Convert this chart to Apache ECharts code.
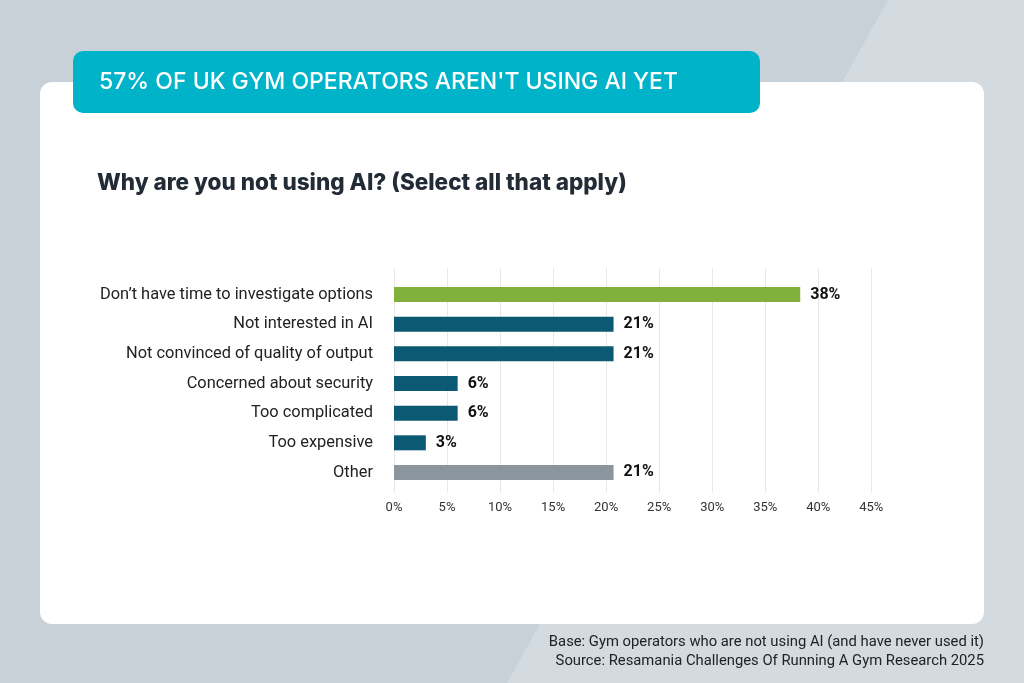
<!DOCTYPE html>
<html>
<head>
<meta charset="utf-8">
<script src="https://cdn.jsdelivr.net/npm/echarts@6/dist/echarts.min.js"></script>
<style>html,body{margin:0;padding:0;}#chart{width:1024px;height:683px;}</style>
</head>
<body>
<div id="chart"></div>
<script>
const categories = [
  "Don\u2019t have time to investigate options",
  "Not interested in AI",
  "Not convinced of quality of output",
  "Concerned about security",
  "Too complicated",
  "Too expensive",
  "Other"
];
const values = [38.3, 20.7, 20.7, 6, 6, 3, 20.7];
const barColors = ["#82b03c", "#0b5972", "#0b5972", "#0b5972", "#0b5972", "#0b5972", "#8a959d"];
const axisMax = 45;
const axisStep = 5;
const headline = "57% OF UK GYM OPERATORS AREN'T USING AI YET";
const question = "Why are you not using AI? (Select all that apply)";
const footnotes = [
  "Base: Gym operators who are not using AI (and have never used it)",
  "Source: Resamania Challenges Of Running A Gym Research 2025"
];

const chart = echarts.init(document.getElementById('chart'), null, {renderer: 'canvas'});
const option = {
  backgroundColor: '#c9d1d8',
  animation: false,
  graphic: [
    {type: 'polygon', z: -10, silent: true, shape: {points: [[888,0],[1024,0],[1024,683],[507,683]]}, style: {fill: '#d3dae0'}},
    {type: 'rect', z: -9, silent: true, shape: {x: 40, y: 82, width: 944, height: 542, r: 12}, style: {fill: '#ffffff'}},
    {type: 'rect', z: -8, silent: true, shape: {x: 73, y: 51, width: 687, height: 62, r: 10}, style: {fill: '#00b3c8'}},
    {type: 'text', z: 5, silent: true, style: {text: headline, x: 99, y: 82, verticalAlign: 'middle', fill: '#ffffff', fontFamily: 'Inter', fontWeight: 500, fontSize: 23}},
    {type: 'text', z: 5, silent: true, style: {text: question, x: 97, y: 183, verticalAlign: 'middle', fill: '#232c36', fontFamily: 'Inter', fontWeight: 800, fontSize: 22.5}},
    {type: 'text', z: 5, silent: true, style: {text: footnotes[0], x: 984, y: 642, align: 'right', verticalAlign: 'middle', fill: '#222222', fontFamily: 'Roboto', fontSize: 14.8}},
    {type: 'text', z: 5, silent: true, style: {text: footnotes[1], x: 984, y: 661, align: 'right', verticalAlign: 'middle', fill: '#222222', fontFamily: 'Roboto', fontSize: 14.8}}
  ],
  grid: [
    {left: 394, right: 152.7, top: 279.7, bottom: 195.7, containLabel: false},
    {left: 394, right: 152.7, top: 268, bottom: 190, containLabel: false}
  ],
  xAxis: [
    {gridIndex: 0, type: 'value', min: 0, max: axisMax, interval: axisStep, show: false},
    {gridIndex: 1, type: 'value', min: 0, max: axisMax, interval: axisStep,
     axisLine: {show: false}, axisTick: {show: false},
     splitLine: {show: true, lineStyle: {color: '#e8e8e8', width: 1}},
     axisLabel: {formatter: '{value}%', color: '#333333', fontFamily: 'Roboto', fontSize: 13, margin: 8}}
  ],
  yAxis: [
    {gridIndex: 0, type: 'category', data: categories, inverse: true,
     axisLine: {show: false}, axisTick: {show: false}, splitLine: {show: false},
     axisLabel: {color: '#222222', fontFamily: 'Roboto', fontSize: 16.4, margin: 21}},
    {gridIndex: 1, type: 'value', show: false}
  ],
  series: [{
    type: 'bar',
    xAxisIndex: 0, yAxisIndex: 0,
    barWidth: 15,
    data: values.map((v, i) => ({value: v, itemStyle: {color: barColors[i]}})),
    label: {show: true, position: 'right', distance: 10, color: '#111111', fontFamily: 'Roboto', fontWeight: 'bold', fontSize: 16,
      formatter: p => Math.round(p.value) + '%'}
  }]
};
chart.setOption(option);
</script>
</body>
</html>
